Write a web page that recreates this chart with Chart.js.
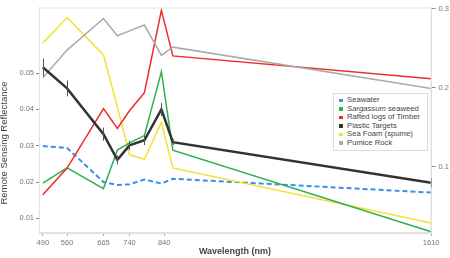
<!DOCTYPE html>
<html>
<head>
<meta charset="utf-8">
<script src="https://cdn.jsdelivr.net/npm/chart.js@4.4.1/dist/chart.umd.min.js"></script>
<style>
  html, body { margin: 0; padding: 0; background: #fff; }
  #wrap { position: relative; width: 450px; height: 258px; }
  #legend {
    position: absolute; left: 333px; top: 93px; width: 95px; height: 58px;
    box-sizing: border-box; border: 1px solid #ddd; background: #fff;
    font-family: "Liberation Sans", Arial, sans-serif; font-size: 7.7px; color: #444;
    padding-top: 2.4px;
  }
  .row { height: 8.5px; line-height: 8.5px; white-space: nowrap; position: relative; padding-left: 13px; }
  .sw { position: absolute; left: 5px; top: 2.5px; width: 3.5px; height: 3.5px; }
</style>
</head>
<body>
<div id="wrap">
  <canvas id="chart" width="450" height="258"></canvas>
  <div id="legend"></div>
</div>
<script>
// Sentinel-2 band centres (nm)
const wavelengths = [490, 560, 665, 705, 740, 783, 832, 865, 1610];

// left axis series
const seawater  = [0.0299, 0.0294, 0.0200, 0.0192, 0.0194, 0.0207, 0.0196, 0.0209, 0.0171];
const sargassum = [0.0197, 0.0239, 0.0182, 0.0288, 0.0308, 0.0328, 0.0504, 0.0288, 0.0063];
const plastic   = [0.0516, 0.0458, 0.0332, 0.0261, 0.0301, 0.0315, 0.0400, 0.0310, 0.0198];
const plasticErr = [0.0024, 0.0022, 0.0018, 0.0013, 0.0013, 0.0013, 0.0018, 0.0008, 0.0013];
const seaFoam   = [0.0583, 0.0653, 0.0550, 0.0407, 0.0275, 0.0263, 0.0364, 0.0239, 0.0087];

// right axis series
const timber = [0.0648, 0.0985, 0.1738, 0.1487, 0.1710, 0.1940, 0.2981, 0.2405, 0.2117];
const pumice = [0.2129, 0.2479, 0.2879, 0.2660, 0.2722, 0.2796, 0.2413, 0.2516, 0.1993];

const seriesNames = ["Seawater", "Sargassum seaweed", "Rafted logs of Timber", "Plastic Targets", "Sea Foam (spume)", "Pumice Rock"];
const seriesColors = ["#3a8fe8", "#2db04f", "#ee2b2b", "#333333", "#f3e12c", "#aaaaaa"];

const xTicks = [490, 560, 665, 740, 840, 1610];
const leftTicks = [0.01, 0.02, 0.03, 0.04, 0.05];
const rightTicks = [0.1, 0.2, 0.3];

const toPoints = (vals) => vals.map((v, i) => ({ x: wavelengths[i], y: v }));
const FONT = '"Liberation Sans", Arial, sans-serif';

// legend (html box inside the plot)
const legend = document.getElementById("legend");
seriesNames.forEach((name, i) => {
  const row = document.createElement("div");
  row.className = "row";
  const label = name.startsWith("Sargassum") ? "<i>Sargassum</i> seaweed" : name;
  row.innerHTML = `<span class="sw" style="background:${seriesColors[i]}"></span>${label}`;
  legend.appendChild(row);
});

// frame round the plot area + axis titles
const framePlugin = {
  id: "frame",
  afterDraw(chart) {
    const { ctx, chartArea: a } = chart;
    ctx.save();
    ctx.strokeStyle = "#e2e2e2";
    ctx.lineWidth = 1;
    ctx.strokeRect(a.left + 0.5, a.top + 0.5, a.right - a.left - 1, a.bottom - a.top - 1);

    ctx.fillStyle = "#444";
    ctx.font = "9.5px " + FONT;
    ctx.textAlign = "center";
    ctx.textBaseline = "middle";
    ctx.translate(4.5, 143);
    ctx.rotate(-Math.PI / 2);
    ctx.fillText("Remote Sensing Reflectance", 0, 0);
    ctx.restore();

    ctx.save();
    ctx.fillStyle = "#444";
    ctx.font = "bold 9px " + FONT;
    ctx.textAlign = "center";
    ctx.textBaseline = "middle";
    ctx.fillText("Wavelength (nm)", 235, 251.5);
    ctx.restore();
  }
};

// vertical error bars on the plastic series
const errorBars = {
  id: "errorBars",
  afterDatasetsDraw(chart) {
    const { ctx } = chart;
    const xs = chart.scales.x, ys = chart.scales.y;
    ctx.save();
    ctx.strokeStyle = "#555";
    ctx.lineWidth = 1;
    plastic.forEach((v, i) => {
      const x = Math.round(xs.getPixelForValue(wavelengths[i])) + 0.5;
      ctx.beginPath();
      ctx.moveTo(x, ys.getPixelForValue(v - plasticErr[i]));
      ctx.lineTo(x, ys.getPixelForValue(v + plasticErr[i]));
      ctx.stroke();
    });
    ctx.restore();
  }
};

const setTicks = (list) => (scale) => { scale.ticks = list.map(v => ({ value: v })); };
const tickFont = { family: FONT, size: 7.5 };

const myChart = new Chart(document.getElementById("chart"), {
  type: "line",
  plugins: [framePlugin, errorBars],
  data: {
    datasets: [
      { label: seriesNames[0], data: toPoints(seawater), borderColor: seriesColors[0], borderWidth: 2, borderDash: [5, 3], yAxisID: "y", order: 5 },
      { label: seriesNames[1], data: toPoints(sargassum), borderColor: seriesColors[1], borderWidth: 1.5, yAxisID: "y", order: 3 },
      { label: seriesNames[2], data: toPoints(timber), borderColor: seriesColors[2], borderWidth: 1.5, yAxisID: "y1", order: 2 },
      { label: seriesNames[3], data: toPoints(plastic), borderColor: seriesColors[3], borderWidth: 2.5, yAxisID: "y", order: 0 },
      { label: seriesNames[4], data: toPoints(seaFoam), borderColor: seriesColors[4], borderWidth: 1.5, yAxisID: "y", order: 4 },
      { label: seriesNames[5], data: toPoints(pumice), borderColor: seriesColors[5], borderWidth: 1.5, yAxisID: "y1", order: 1 },
    ],
  },
  options: {
    responsive: false,
    animation: false,
    devicePixelRatio: 1,
    layout: { padding: { top: 2, left: 0, right: 0, bottom: 0 } },
    elements: { point: { radius: 0 }, line: { tension: 0, fill: false } },
    plugins: { legend: { display: false }, tooltip: { enabled: false } },
    scales: {
      x: {
        type: "linear", min: 479, max: 1611,
        afterBuildTicks: setTicks(xTicks),
        afterFit: (s) => { s.height = 25; },
        ticks: { autoSkip: false, maxRotation: 0, font: tickFont, color: "#777", padding: 2, callback: (v) => String(v) },
        grid: { drawOnChartArea: false, tickLength: 3, color: "#aaa" },
        border: { color: "#ddd" },
      },
      y: {
        position: "left", min: 0.00597, max: 0.06807,
        afterBuildTicks: setTicks(leftTicks),
        afterFit: (s) => { s.width = 39; },
        ticks: { font: tickFont, color: "#777", padding: 2, callback: (v) => v.toFixed(2) },
        grid: { drawOnChartArea: false, tickLength: 3, color: "#888" },
        border: { color: "#ddd" },
      },
      y1: {
        position: "right", min: 0.0163, max: 0.3018,
        afterBuildTicks: setTicks(rightTicks),
        afterFit: (s) => { s.width = 18.5; },
        ticks: { font: tickFont, color: "#777", padding: 3, callback: (v) => v.toFixed(1) },
        grid: { drawOnChartArea: false, tickLength: 4, color: "#888" },
        border: { color: "#ddd" },
      },
    },
  },
});
</script>
</body>
</html>
